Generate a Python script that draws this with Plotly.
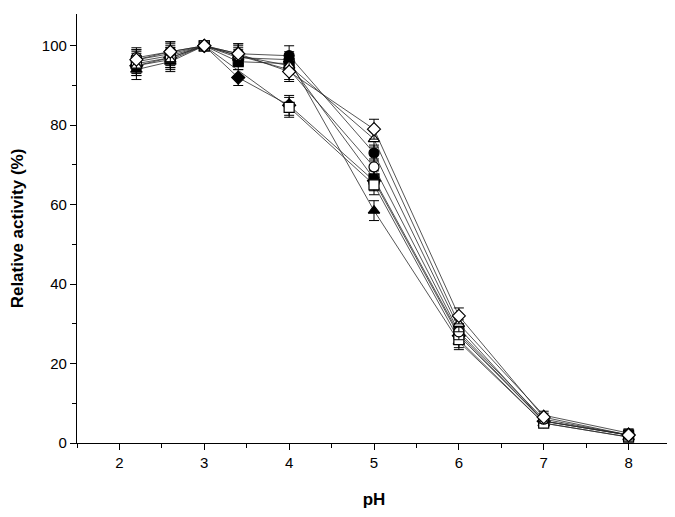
import plotly.graph_objects as go

ph = [2.2, 2.6, 3.0, 3.4, 4.0, 5.0, 6.0, 7.0, 8.0]

series_names = ["filled diamond", "filled triangle", "filled square", "filled circle",
                "open square", "open circle", "open triangle", "open diamond"]

v_fdi = [95.0, 97.0, 100, 92.0, 85.0, 66.0, 27.0, 5.5, 2.0]
v_ftr = [94.0, 96.0, 100, 97.0, 96.5, 58.5, 25.5, 5.0, 1.5]
v_fsq = [95.5, 97.0, 100, 96.0, 95.5, 66.5, 27.5, 5.5, 2.0]
v_fci = [96.5, 98.0, 100, 98.0, 97.5, 73.0, 29.0, 5.5, 2.0]
v_osq = [96.0, 97.5, 100, None, 84.5, 65.0, 26.0, 5.0, 1.5]
v_oci = [97.0, 98.5, 100, 97.5, 94.0, 69.5, 28.0, 6.0, 2.0]
v_otr = [95.0, 96.5, 100, 97.5, 95.0, 76.5, 30.0, 7.0, 2.5]
v_odi = [96.5, 98.5, 100, 98.0, 93.5, 79.0, 32.0, 6.5, 2.0]

e_fdi = [2.5, 2.5, 0.5, 2.0, 2.5, 2.5, 2.0, 1.0, 1.0]
e_ftr = [2.5, 2.5, 0.5, 2.0, 2.0, 2.5, 2.0, 1.0, 1.0]
e_fsq = [2.5, 2.5, 0.5, 2.0, 2.0, 2.5, 2.0, 1.0, 1.0]
e_fci = [2.5, 2.5, 0.5, 2.5, 2.5, 2.0, 2.0, 1.0, 1.0]
e_osq = [2.5, 2.5, 0.5, 2.0, 2.5, 2.5, 2.0, 1.0, 1.0]
e_oci = [2.5, 2.5, 0.5, 2.5, 2.5, 2.0, 2.0, 1.0, 1.0]
e_otr = [2.5, 2.5, 0.5, 2.0, 2.0, 2.0, 2.0, 1.0, 1.0]
e_odi = [2.5, 2.5, 0.5, 2.5, 2.5, 2.5, 2.0, 1.0, 1.5]

symbols = ["diamond", "triangle-up", "square", "circle",
           "square-open", "circle-open", "triangle-up-open", "diamond-open"]
values = [v_fdi, v_ftr, v_fsq, v_fci, v_osq, v_oci, v_otr, v_odi]
errors = [e_fdi, e_ftr, e_fsq, e_fci, e_osq, e_oci, e_otr, e_odi]

fig = go.Figure()
for name, sym, vals, errs in zip(series_names, symbols, values, errors):
    xs = [x for x, v in zip(ph, vals) if v is not None]
    ys = [v for v in vals if v is not None]
    es = [e for e, v in zip(errs, vals) if v is not None]
    is_open = sym.endswith("-open")
    fig.add_trace(go.Scatter(
        x=xs, y=ys, name=name, mode="lines+markers",
        line=dict(color="#2a2a2a", width=0.8),
        marker=dict(symbol=sym.replace("-open", ""), size=10,
                    color="white" if is_open else "black",
                    line=dict(color="black", width=1.2)),
        error_y=dict(type="data", array=es, visible=True,
                     color="black", thickness=1, width=5),
        showlegend=False,
    ))

axis_font = dict(family="Liberation Sans, Arial, sans-serif", size=15, color="black")
fig.update_layout(
    width=667, height=509,
    margin=dict(l=69, r=4, t=6, b=74),
    paper_bgcolor="white", plot_bgcolor="white",
    font=axis_font,
)
fig.update_xaxes(
    automargin=False,
    range=[1.5, 8.5], tickvals=[2, 3, 4, 5, 6, 7, 8],
    showline=True, linecolor="black", linewidth=1.3,
    ticks="outside", ticklen=6, tickwidth=1.2, tickcolor="black",
    minor=dict(dtick=0.5, tick0=1.5, ticks="outside", ticklen=4, tickwidth=1, tickcolor="black"),
    showgrid=False, zeroline=False,
    title=dict(text="<b>pH</b>", font=dict(size=17), standoff=22),
)
fig.update_yaxes(
    automargin=False,
    range=[0, 108], tickvals=[0, 20, 40, 60, 80, 100],
    showline=True, linecolor="black", linewidth=1.3,
    ticks="outside", ticklen=6, tickwidth=1.2, tickcolor="black",
    minor=dict(dtick=10, tick0=0, ticks="outside", ticklen=4, tickwidth=1, tickcolor="black"),
    showgrid=False, zeroline=False,
    title=dict(text="<b>Relative activity (%)</b>", font=dict(size=17), standoff=14),
)

fig.write_html("out.html")
